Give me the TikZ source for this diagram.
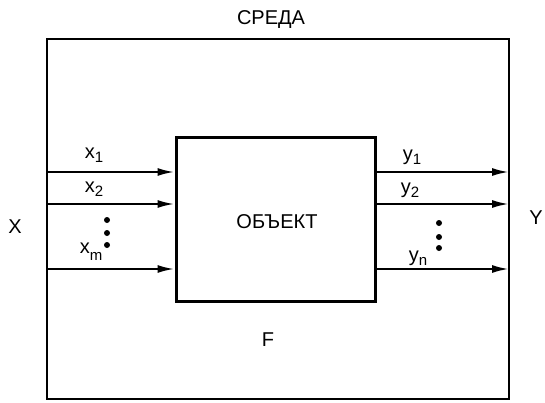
\documentclass[tikz,border=0pt]{standalone}
\usepackage{fontspec}
\setmainfont{Liberation Sans}
\usetikzlibrary{arrows.meta}
\newcommand{\subsc}[2]{\raisebox{#1}{\fontsize{15}{16}\selectfont #2}}
\begin{document}
\begin{tikzpicture}[x=1pt,y=-1pt,
  lbl/.style={inner sep=0pt,font=\fontsize{20}{22}\selectfont},
  sig/.style={line width=2.2pt,-{Latex[length=17pt,width=8pt]}},
  frame/.style={line width=2.4pt},
  objframe/.style={line width=3pt},
  dot/.style={circle,fill=black,inner sep=0pt,minimum size=6pt}]
\useasboundingbox (0,0) rectangle (545,402);
% outer environment box
\draw[frame] (47,39) rectangle (509,399);
\coordinate (L1) at (47,172);
\coordinate (L2) at (47,204);
\coordinate (L3) at (47,269);
\coordinate (R1) at (509,172);
\coordinate (R2) at (509,204);
\coordinate (R3) at (509,269);
% object box
\node[objframe,draw,minimum width=199pt,minimum height=164pt,inner sep=0pt] (obj) at (275.5,219) {};
\node[lbl] (objt) at (277,222) {ОБЪЕКТ};
% arrows
\draw[sig] (L1) -- (obj.west |- L1);
\draw[sig] (L2) -- (obj.west |- L2);
\draw[sig] (L3) -- (obj.west |- L3);
\draw[sig] (obj.east |- R1) -- (R1);
\draw[sig] (obj.east |- R2) -- (R2);
\draw[sig] (obj.east |- R3) -- (R3);
% labels
\node[lbl] (sreda) at (271,20) {СРЕДА};
\node[lbl] (F) at (268,340) {F};
\node[lbl] (X) at (15,227) {X};
\node[lbl] (Y) at (536,218) {Y};
\node[lbl] (x1) at (94,155) {x\subsc{-4pt}{1}};
\node[lbl] (x2) at (94,189) {x\subsc{-4pt}{2}};
\node[lbl] (xm) at (91,252) {x\subsc{-7pt}{m}};
\node[lbl] (y1) at (412,157) {y\subsc{-4pt}{1}};
\node[lbl] (y2) at (410,190) {y\subsc{-4pt}{2}};
\node[lbl] (yn) at (418,258) {y\subsc{-4pt}{n}};
% dots
\node[dot] (dl1) at (107,220) {};
\node[dot] (dl2) at (107,233) {};
\node[dot] (dl3) at (107,245) {};
\node[dot] (dr1) at (439,223) {};
\node[dot] (dr2) at (439,237) {};
\node[dot] (dr3) at (439,248) {};
\end{tikzpicture}
\end{document}
